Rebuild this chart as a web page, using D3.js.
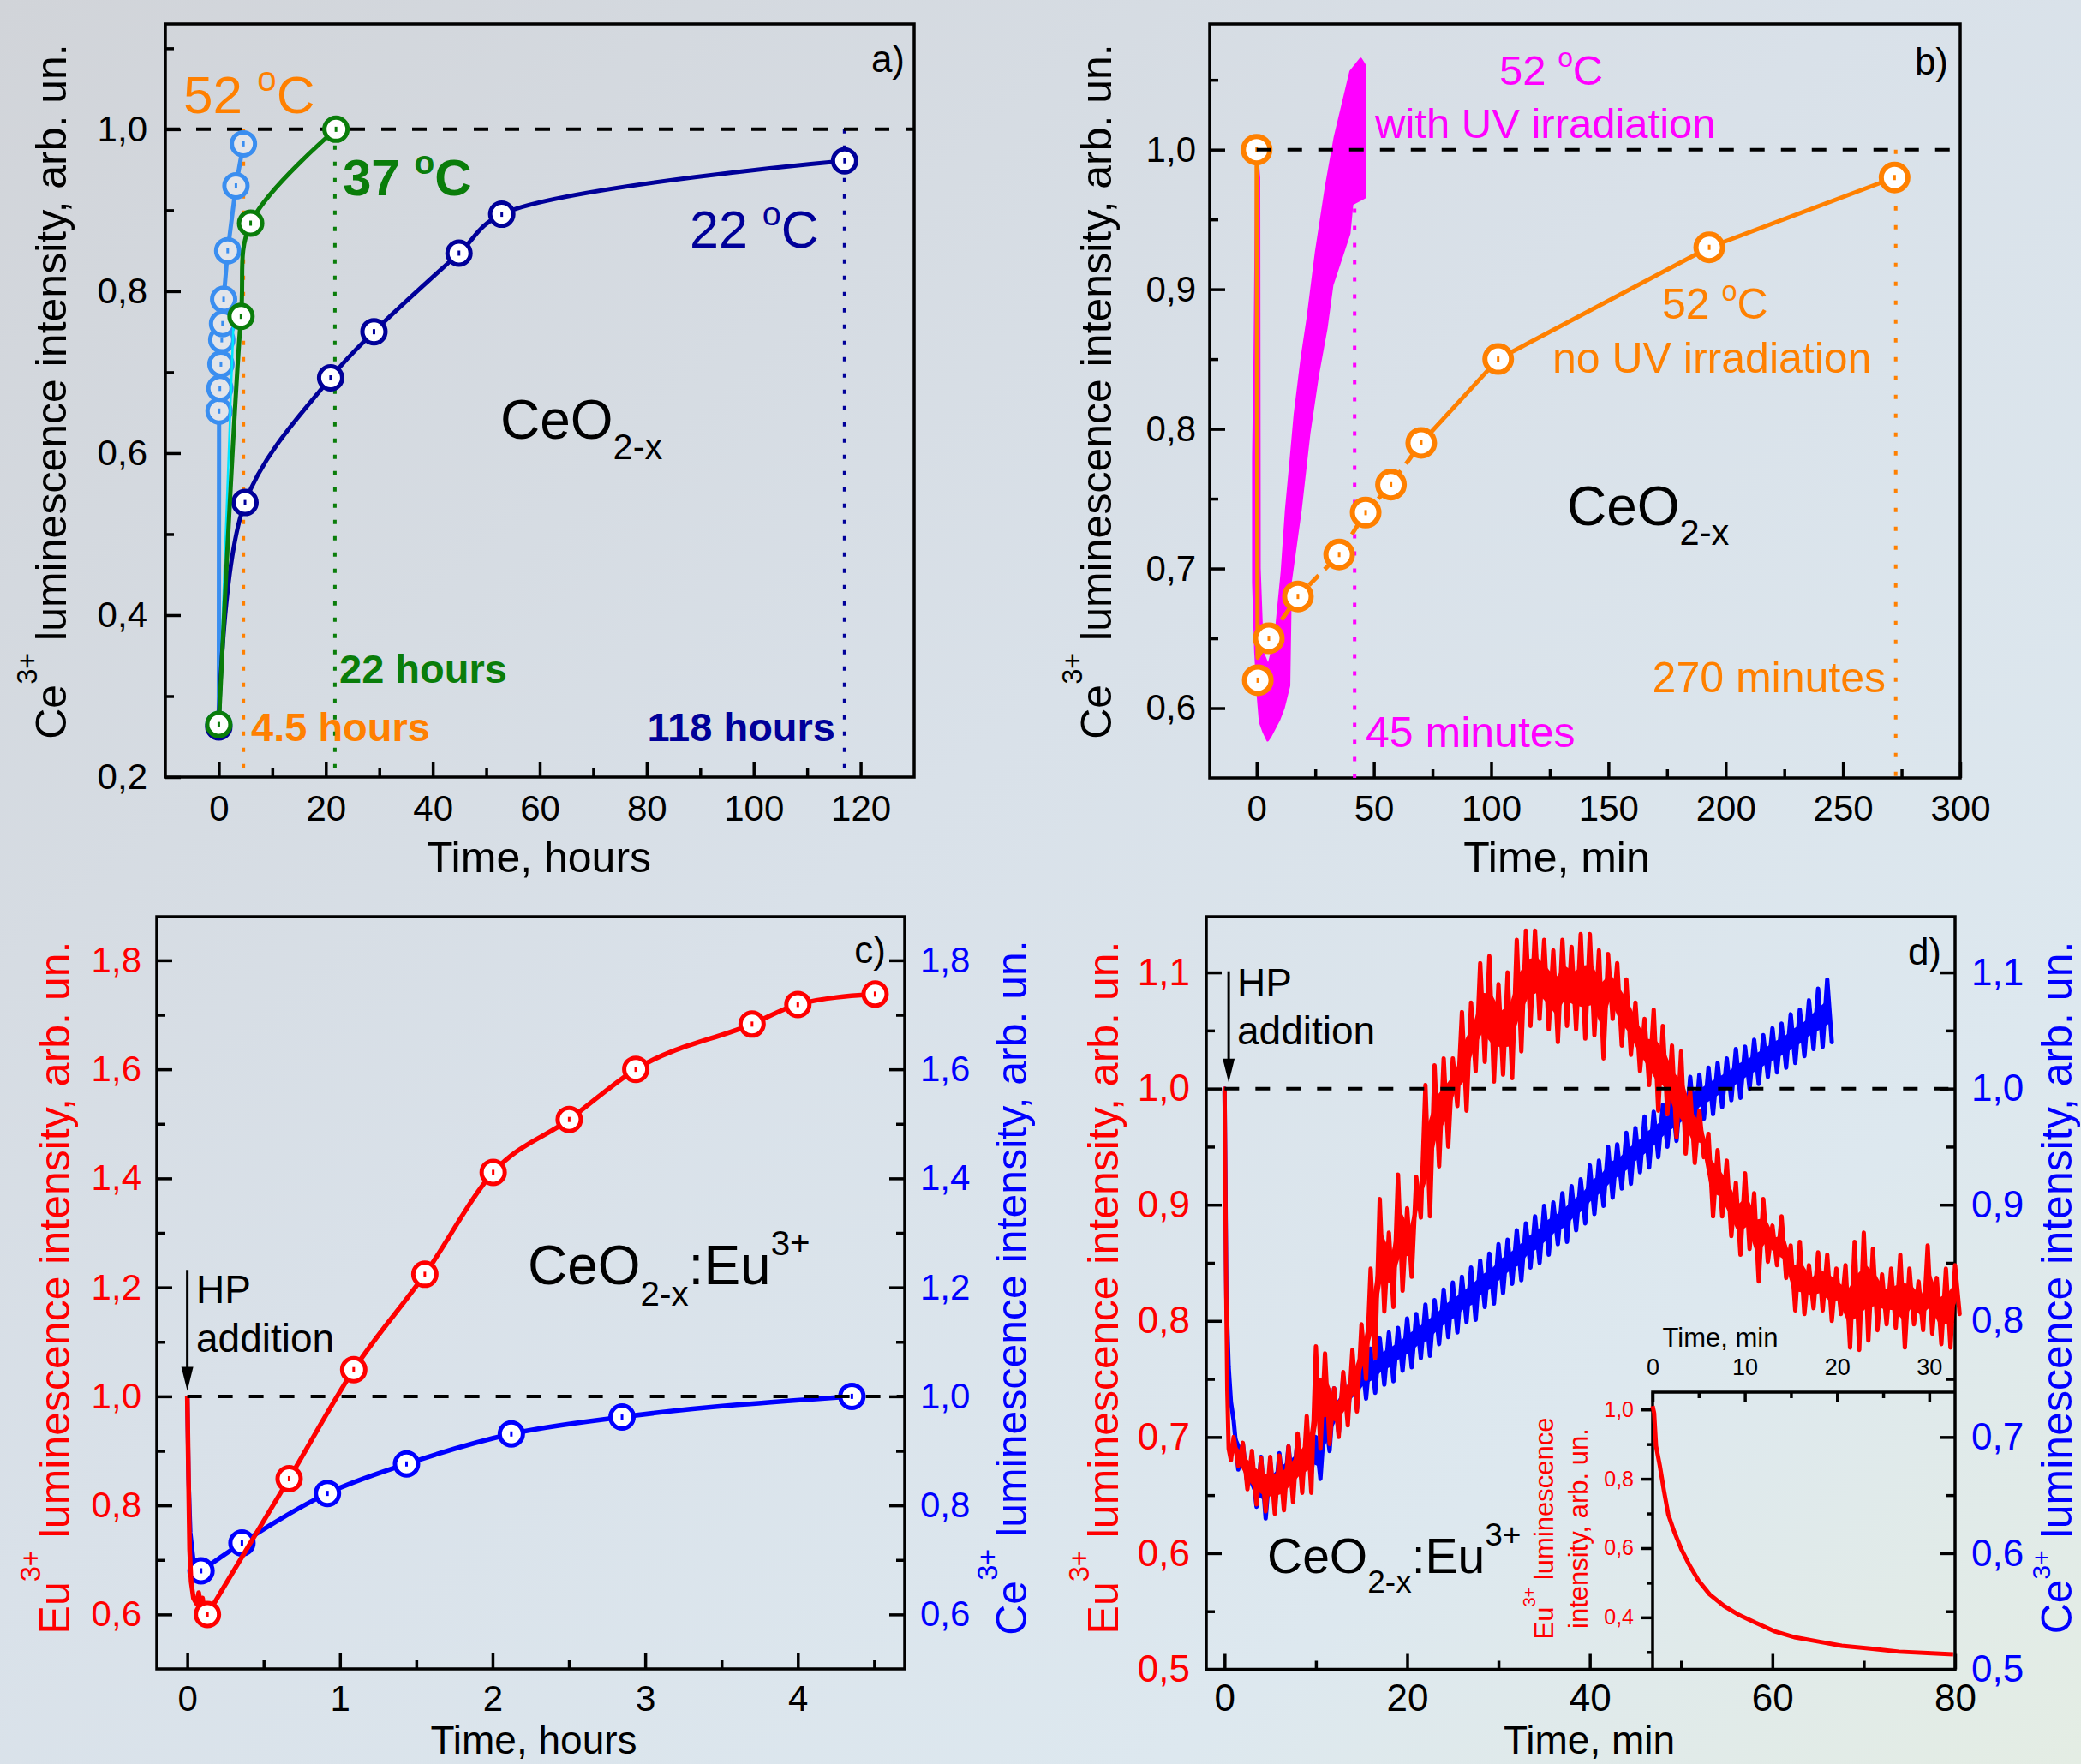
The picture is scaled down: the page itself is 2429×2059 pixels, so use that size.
<!DOCTYPE html>
<html>
<head>
<meta charset="utf-8">
<script src="https://cdn.jsdelivr.net/npm/d3@7"></script>
<style>
  body { margin: 0; }
  svg { display: block; }
</style>
</head>
<body>
<svg id="fig" width="2429" height="2059"></svg>
<script>
////////////////////////////////////////////////////////////////
// Data

// panel a) - Ce3+ recovery after HP, time in hours
let hours22 = [0, 4.9, 20.9, 29.0, 44.9, 52.9, 117];
let ce22    = [0.262, 0.539, 0.693, 0.750, 0.847, 0.895, 0.961];
let hours37 = [0, 4.15, 5.95, 21.9];
let ce37    = [0.265, 0.769, 0.884, 1.0];
let hours52 = [0, 0.05, 0.2, 0.4, 0.55, 0.7, 0.9, 1.66, 3.2, 4.6];
let ce52    = [0.265, 0.652, 0.68, 0.71, 0.74, 0.76, 0.79, 0.85, 0.93, 0.982];
let cyanHours = [0, 2.8];
let cyanCe    = [0.27, 0.77];
let recoveryHours = [4.6, 21.7, 117];
let xTicksA = [0, 20, 40, 60, 80, 100, 120];
let xMinorA = [10, 30, 50, 70, 90, 110];
let yTicksA = [0.2, 0.4, 0.6, 0.8, 1.0];
let yMinorA = [0.3, 0.5, 0.7, 0.9, 1.1];

// panel b) - 52 C, with / without UV, time in min
let minDark = [0, 0.5, 5.2, 17.6, 35.2, 46.5, 57.3, 70.2, 103, 193, 272];
let ceDark  = [1.0, 0.62, 0.65, 0.68, 0.71, 0.74, 0.76, 0.79, 0.85, 0.93, 0.98];
let darkDropMin = [0, 0.4, 5.2];
let darkDropCe  = [1.0, 0.636, 0.65];
// outline of the noisy magenta (UV) trace
let uvMin = [0, -0.8, -1.4, -1.4, -0.5, 0.5, 1.5, 3, 4.7, 5.9, 9.6, 11.4, 13.8, 14.5, 18.7, 22.4,
             26, 29.7, 32.2, 39.5, 40.7, 46.2, 46.2, 44.4, 40.1, 33.4, 29.7, 25.4, 21.8, 19.3,
             16.3, 14.5, 12.6, 10.8, 8, 5, 2.5, 1.2, 1];
let uvCe  = [1.0, 0.85, 0.78, 0.69, 0.64, 0.61, 0.59, 0.583, 0.577, 0.58, 0.592, 0.6, 0.616, 0.691, 0.742, 0.797,
             0.838, 0.872, 0.903, 0.94, 0.961, 0.966, 1.06, 1.065, 1.056, 1.009, 0.974, 0.927, 0.879, 0.851,
             0.81, 0.776, 0.742, 0.698, 0.65, 0.63, 0.64, 0.70, 0.98];
let uvEndMin = 41.8;
let darkEndMin = 272.5;
let xTicksB = [0, 50, 100, 150, 200, 250, 300];
let xMinorB = [25, 75, 125, 175, 225, 275];
let yTicksB = [0.6, 0.7, 0.8, 0.9, 1.0];
let yMinorB = [0.65, 0.75, 0.85, 0.95, 1.05];

// panel c) - CeO2-x:Eu3+, time in hours
let hoursEu = [0.132, 0.667, 1.09, 1.556, 2.004, 2.502, 2.938, 3.70, 4.0, 4.506];
let euC     = [0.60, 0.849, 1.049, 1.224, 1.411, 1.508, 1.600, 1.683, 1.719, 1.738];
let hoursCe = [0.09, 0.358, 0.918, 1.436, 2.123, 2.848, 4.354];
let ceC     = [0.68, 0.731, 0.822, 0.876, 0.931, 0.962, 1.0];
let euDropHours = [0, 0.008, 0.015, 0.025, 0.04, 0.06, 0.075, 0.09, 0.1, 0.115, 0.132];
let euDrop      = [1.0, 0.85, 0.72, 0.66, 0.63, 0.62, 0.64, 0.61, 0.63, 0.60, 0.60];
let ceDropHours = [0, 0.008, 0.02, 0.04, 0.065, 0.09];
let ceDrop      = [1.0, 0.85, 0.75, 0.70, 0.685, 0.68];
let xTicksC = [0, 1, 2, 3, 4];
let xMinorC = [0.5, 1.5, 2.5, 3.5, 4.5];
let yTicksC = [0.6, 0.8, 1.0, 1.2, 1.4, 1.6, 1.8];
let yMinorC = [0.7, 0.9, 1.1, 1.3, 1.5, 1.7];

// panel d) - kinetics, time in min (upper / lower swing of the noisy traces, 1 min steps)
let dMinutes = d3.range(1, 81);
let euHi = [0.700, 0.695, 0.688, 0.682, 0.683, 0.684, 0.692, 0.703, 0.718, 0.778,
            0.772, 0.742, 0.756, 0.775, 0.797, 0.845, 0.905, 0.876, 0.926, 0.897,
            0.924, 1.003, 1.020, 1.026, 1.026, 1.066, 1.074, 1.108, 1.114, 1.090,
            1.100, 1.128, 1.136, 1.136, 1.128, 1.119, 1.128, 1.122, 1.133, 1.133,
            1.119, 1.116, 1.108, 1.094, 1.074, 1.060, 1.068, 1.054, 1.037, 1.032,
            0.998, 0.981, 0.961, 0.947, 0.938, 0.919, 0.927, 0.910, 0.905, 0.882,
            0.890, 0.865, 0.868, 0.848, 0.859, 0.857, 0.845, 0.848, 0.868, 0.876,
            0.862, 0.840, 0.845, 0.857, 0.845, 0.834, 0.865, 0.837, 0.845, 0.848];
let euLo = [0.675, 0.655, 0.642, 0.636, 0.634, 0.637, 0.644, 0.652, 0.652, 0.690,
            0.694, 0.700, 0.710, 0.722, 0.750, 0.768, 0.808, 0.812, 0.826, 0.838,
            0.889, 0.890, 0.933, 0.950, 0.985, 0.981, 1.015, 1.023, 1.006, 1.012,
            1.009, 1.032, 1.054, 1.060, 1.051, 1.040, 1.054, 1.051, 1.043, 1.046,
            1.026, 1.060, 1.037, 1.029, 1.015, 1.003, 0.981, 0.978, 0.958, 0.944,
            0.936, 0.941, 0.890, 0.890, 0.873, 0.857, 0.862, 0.834, 0.851, 0.848,
            0.837, 0.809, 0.806, 0.811, 0.809, 0.800, 0.806, 0.777, 0.775, 0.783,
            0.792, 0.797, 0.794, 0.777, 0.797, 0.792, 0.789, 0.780, 0.777, 0.806];
let ceHi = [0.714, 0.694, 0.676, 0.683, 0.678, 0.686, 0.692, 0.700, 0.703, 0.700,
            0.720, 0.742, 0.752, 0.763, 0.772, 0.776, 0.785, 0.790, 0.794, 0.802,
            0.806, 0.814, 0.818, 0.827, 0.833, 0.838, 0.846, 0.852, 0.858, 0.866,
            0.870, 0.878, 0.884, 0.890, 0.899, 0.902, 0.910, 0.916, 0.922, 0.934,
            0.938, 0.950, 0.952, 0.962, 0.966, 0.976, 0.980, 0.986, 0.994, 1.002,
            1.010, 1.012, 1.018, 1.022, 1.026, 1.034, 1.036, 1.042, 1.046, 1.052,
            1.056, 1.064, 1.068, 1.076, 1.086, 1.094];
let ceLo = [0.672, 0.659, 0.640, 0.630, 0.644, 0.650, 0.655, 0.661, 0.668, 0.664,
            0.688, 0.703, 0.718, 0.724, 0.733, 0.738, 0.745, 0.748, 0.757, 0.760,
            0.768, 0.770, 0.780, 0.786, 0.790, 0.799, 0.801, 0.812, 0.815, 0.824,
            0.832, 0.835, 0.846, 0.850, 0.857, 0.866, 0.868, 0.878, 0.884, 0.892,
            0.899, 0.906, 0.914, 0.918, 0.928, 0.932, 0.941, 0.950, 0.955, 0.960,
            0.966, 0.974, 0.978, 0.984, 0.990, 0.992, 1.000, 1.004, 1.010, 1.014,
            1.018, 1.022, 1.028, 1.034, 1.036, 1.040];
let euStartMin = [0, 0.15, 0.3, 0.45, 0.7];
let euStart    = [1.0, 0.85, 0.74, 0.69, 0.68];
let ceStartMin = [0, 0.2, 0.45, 0.7];
let ceStart    = [1.0, 0.82, 0.76, 0.73];
let xTicksD = [0, 20, 40, 60, 80];
let xMinorD = [10, 30, 50, 70];
let yTicksD = [0.5, 0.6, 0.7, 0.8, 0.9, 1.0, 1.1];
let yMinorD = [0.55, 0.65, 0.75, 0.85, 0.95, 1.05];

// inset of d) - Eu3+ decay
let insetMin = [0, 0.16, 0.37, 0.78, 1.24, 1.7, 2.33, 3.1, 4.03, 4.96, 6.2, 7.75, 9.3,
                11.2, 13.3, 15.5, 18, 20.5, 23.6, 26.7, 29.8, 32.6];
let insetEu  = [1.01, 0.99, 0.895, 0.838, 0.764, 0.697, 0.648, 0.598, 0.549, 0.507, 0.466, 0.433, 0.408,
                0.384, 0.359, 0.342, 0.330, 0.318, 0.310, 0.301, 0.297, 0.293];
let xTicksI = [0, 10, 20, 30];
let xMinorI = [5, 15, 25];
let yTicksI = [0.4, 0.6, 0.8, 1.0];
let yMinorI = [0.3, 0.5, 0.7, 0.9];


////////////////////////////////////////////////////////////////
// helpers

const FONT = "'Liberation Sans', Arial, sans-serif";
const NAVY = "#000099", GREEN = "#0a7d0a", SKY = "#3a8ef0", ORANGE = "#ff8000",
      MAGENTA = "#ff00ff", RED = "#ff0000", BLUE = "#0000ff";

let svg = d3.select("#fig");

// background
let grad = svg.append("defs").append("linearGradient")
  .attr("id", "bg").attr("x1", 0).attr("y1", 0).attr("x2", 1).attr("y2", 1);
grad.append("stop").attr("offset", 0).attr("stop-color", "#d1d4d9");
grad.append("stop").attr("offset", 0.45).attr("stop-color", "#d9e1e9");
grad.append("stop").attr("offset", 0.78).attr("stop-color", "#dde8ef");
grad.append("stop").attr("offset", 1).attr("stop-color", "#e4ede4");
svg.append("rect").attr("width", 2429).attr("height", 2059).attr("fill", "url(#bg)");

let dec = d => d3.format(".1f")(d).replace(".", ",");
let int = d3.format("d");

function panel(l, r, t, b, xd, yd) {
  return { l, r, t, b, g: svg.append("g"),
    x: d3.scaleLinear().domain(xd).range([l, r]),
    y: d3.scaleLinear().domain(yd).range([b, t]) };
}

function frame(p) {
  p.g.append("rect")
    .attr("x", p.l).attr("y", p.t).attr("width", p.r - p.l).attr("height", p.b - p.t)
    .attr("fill", "none").attr("stroke", "#000").attr("stroke-width", 3.5);
}

function ticks(p, make, pos, major, minor, fmt, opt) {
  let o = Object.assign({ size: 42, pad: 20, color: "#000", len: -18, mlen: -10 }, opt);
  let gm = p.g.append("g").attr("transform", pos)
    .call(make().tickValues(minor).tickSize(o.mlen).tickFormat(""));
  gm.select(".domain").remove();
  gm.selectAll("line").attr("stroke-width", 3.5);
  let ga = p.g.append("g").attr("transform", pos)
    .call(make().tickValues(major).tickSize(o.len).tickPadding(o.pad).tickFormat(fmt));
  ga.attr("font-family", FONT).attr("font-size", o.size);
  ga.select(".domain").remove();
  ga.selectAll("line").attr("stroke-width", 3.5);
  ga.selectAll("text").attr("fill", o.color);
}

// text with sub/superscripts: parts = [[text, shift(em), scale], ...]
function label(g, x, y, size, parts, opt) {
  opt = opt || {};
  let t = g.append("text").attr("x", x).attr("y", y)
    .attr("font-family", FONT).attr("font-size", size)
    .attr("fill", opt.color || "#000")
    .attr("font-weight", opt.bold ? "bold" : null)
    .attr("text-anchor", opt.anchor || "start")
    .style("white-space", "pre");
  if (opt.rotate) t.attr("transform", `rotate(-90,${x},${y})`);
  if (typeof parts === "string") parts = [[parts, 0, 1]];
  let shift = 0;
  parts.forEach(([s, k, f]) => {
    let dy = k * size;
    t.append("tspan").attr("dy", dy - shift).attr("font-size", size * f).text(s);
    shift = dy;
  });
  return t;
}

function path(p, xs, ys, color, width, curve, dash) {
  return p.g.append("path")
    .datum(d3.zip(xs, ys))
    .attr("d", d3.line().x(d => p.x(d[0])).y(d => p.y(d[1])).curve(curve || d3.curveLinear))
    .attr("fill", "none").attr("stroke", color).attr("stroke-width", width)
    .attr("stroke-dasharray", dash || null)
    .attr("stroke-linejoin", "round");
}

function markers(p, xs, ys, color, fill, r, sw) {
  p.g.append("g").selectAll("g")
    .data(d3.zip(xs, ys))
    .join("g")
    .attr("transform", d => `translate(${p.x(d[0])},${p.y(d[1])})`)
    .call(g => g.append("circle").attr("r", r || 13.5).attr("fill", fill || "#fff")
      .attr("stroke", color).attr("stroke-width", sw || 5))
    .call(g => g.append("rect").attr("x", -1.5).attr("y", -3).attr("width", 3).attr("height", 6)
      .attr("fill", color));
}

function vline(p, x, v0, v1, color, dash, w) {
  p.g.append("line")
    .attr("x1", p.x(x)).attr("x2", p.x(x)).attr("y1", p.y(v0)).attr("y2", p.y(v1))
    .attr("stroke", color).attr("stroke-width", w || 4).attr("stroke-dasharray", dash);
}

function unityLine(p, x0, x1) {
  p.g.append("line")
    .attr("x1", p.x(x0)).attr("x2", p.x(x1)).attr("y1", p.y(1)).attr("y2", p.y(1))
    .attr("stroke", "#000").attr("stroke-width", 4).attr("stroke-dasharray", "17,19");
}

function arrow(p, t, vTop, vTip) {
  let x = p.x(t), y0 = p.y(vTop), y1 = p.y(vTip);
  p.g.append("line").attr("x1", x).attr("x2", x).attr("y1", y0).attr("y2", y1 - 20)
    .attr("stroke", "#000").attr("stroke-width", 3);
  p.g.append("path").attr("d", `M${x},${y1} L${x - 7},${y1 - 28} L${x + 7},${y1 - 28} Z`).attr("fill", "#000");
}

// noisy trace: solid core of the band plus the swing between upper and lower readings
function noisy(p, startT, startV, ts, hi, lo, color) {
  let core = ts.map((t, i) => [t + 0.25, hi[i] - 0.3 * (hi[i] - lo[i]), lo[i] + 0.3 * (hi[i] - lo[i])]);
  p.g.append("path").datum(core)
    .attr("d", d3.area().x(d => p.x(d[0])).y1(d => p.y(d[1])).y0(d => p.y(d[2])))
    .attr("fill", color);
  let pts = d3.zip(startT, startV);
  hi.forEach((h, i) => { pts.push([ts[i], h]); pts.push([ts[i] + 0.5, lo[i]]); });
  p.g.append("path").datum(pts)
    .attr("d", d3.line().x(d => p.x(d[0])).y(d => p.y(d[1])))
    .attr("fill", "none").attr("stroke", color).attr("stroke-width", 5)
    .attr("stroke-linejoin", "round").attr("stroke-linecap", "round");
}

let ceTitle = [["Ce", 0, 1], ["3+", -0.68, 0.65], [" luminescence intensity, arb. un.", 0, 1]];
let euTitle = [["Eu", 0, 1], ["3+", -0.68, 0.65], [" luminescence intensity, arb. un.", 0, 1]];
let deg = (n) => [[n + " ", 0, 1], ["o", -0.42, 0.65], ["C", 0, 1]];


////////////////////////////////////////////////////////////////
// panel a)

let A = panel(193, 1067, 28, 907, [-10, 130], [0.2, 1.13]);
frame(A);
ticks(A, () => d3.axisBottom(A.x), `translate(0,${A.b})`, xTicksA, xMinorA, int, { pad: 21 });
ticks(A, () => d3.axisLeft(A.y), `translate(${A.l},0)`, yTicksA, yMinorA, dec, { pad: 21 });

[ORANGE, GREEN, NAVY].forEach((c, i) => vline(A, recoveryHours[i], 1.0, 0.2, c, "5,14", 4));
unityLine(A, -10, 130);

path(A, hours52, ce52, SKY, 5);
markers(A, hours52, ce52, SKY, "#e2e5ea");
path(A, cyanHours, cyanCe, "#00e5ff", 2.5);
path(A, hours22, ce22, NAVY, 5, d3.curveCatmullRom.alpha(0.5));
markers(A, hours22, ce22, NAVY);
path(A, hours37, ce37, GREEN, 5, d3.curveCatmullRom.alpha(0.5));
markers(A, hours37, ce37, GREEN);

label(A.g, 214, 132, 62, deg("52"), { color: ORANGE });
label(A.g, 400, 228, 60, deg("37"), { color: GREEN, bold: true });
label(A.g, 805, 289, 61, deg("22"), { color: NAVY });
label(A.g, 584, 512, 64, [["CeO", 0, 1], ["2-x", 0.38, 0.65]]);
label(A.g, 396, 797, 47, "22 hours", { color: GREEN, bold: true });
label(A.g, 293, 865, 47, "4.5 hours", { color: ORANGE, bold: true });
label(A.g, 975, 865, 47, "118 hours", { color: NAVY, bold: true, anchor: "end" });
label(A.g, 1056, 84, 44, "a)", { anchor: "end" });
label(A.g, 629, 1018, 50, "Time, hours", { anchor: "middle" });
label(A.g, 77, 457, 50, ceTitle, { rotate: true, anchor: "middle" });


////////////////////////////////////////////////////////////////
// panel b)

let B = panel(1412, 2288, 28, 908, [-20, 300], [0.55, 1.09]);
frame(B);
ticks(B, () => d3.axisBottom(B.x), `translate(0,${B.b})`, xTicksB, xMinorB, int, { pad: 20 });
ticks(B, () => d3.axisLeft(B.y), `translate(${B.l},0)`, yTicksB, yMinorB, dec, { pad: 16 });

B.g.append("path")
  .datum(d3.zip(uvMin, uvCe))
  .attr("d", d3.line().x(d => B.x(d[0])).y(d => B.y(d[1])).curve(d3.curveLinearClosed))
  .attr("fill", MAGENTA).attr("stroke", MAGENTA).attr("stroke-width", 3).attr("stroke-linejoin", "round");
vline(B, uvEndMin, 0.97, 0.55, MAGENTA, "5,15", 4);
vline(B, darkEndMin, 1.0, 0.55, ORANGE, "5,17", 4);

path(B, darkDropMin, darkDropCe, ORANGE, 5);
path(B, minDark.slice(2, 8), ceDark.slice(2, 8), ORANGE, 5, null, "16,10");
path(B, minDark.slice(7), ceDark.slice(7), ORANGE, 5);
markers(B, minDark, ceDark, ORANGE, "#fff", 15.5, 6);
unityLine(B, 0, 300);

label(B.g, 1750, 99, 49, deg("52"), { color: MAGENTA });
label(B.g, 1605, 161, 49, "with UV irradiation", { color: MAGENTA });
label(B.g, 1940, 372, 50, deg("52"), { color: ORANGE });
label(B.g, 1812, 435, 50, "no UV irradiation", { color: ORANGE });
label(B.g, 1829, 613, 64, [["CeO", 0, 1], ["2-x", 0.36, 0.65]]);
label(B.g, 2201, 808, 50, "270 minutes", { color: ORANGE, anchor: "end" });
label(B.g, 1594, 872, 50, "45 minutes", { color: MAGENTA });
label(B.g, 2274, 87, 44, "b)", { anchor: "end" });
label(B.g, 1817, 1018, 50, "Time, min", { anchor: "middle" });
label(B.g, 1297, 457, 50, ceTitle, { rotate: true, anchor: "middle" });


////////////////////////////////////////////////////////////////
// panel c)

let C = panel(183, 1056, 1070, 1948, [-0.2, 4.7], [0.5, 1.88]);
frame(C);
ticks(C, () => d3.axisBottom(C.x), `translate(0,${C.b})`, xTicksC, xMinorC, int, { pad: 19 });
ticks(C, () => d3.axisLeft(C.y), `translate(${C.l},0)`, yTicksC, yMinorC, dec, { pad: 18, color: RED });
ticks(C, () => d3.axisRight(C.y), `translate(${C.r},0)`, yTicksC, yMinorC, dec, { pad: 18, color: BLUE });

path(C, ceDropHours, ceDrop, BLUE, 5);
path(C, hoursCe, ceC, BLUE, 5.5, d3.curveMonotoneX);
markers(C, hoursCe, ceC, BLUE);
path(C, euDropHours, euDrop, RED, 5.5);
path(C, hoursEu, euC, RED, 5.5, d3.curveMonotoneX);
markers(C, hoursEu, euC, RED);
unityLine(C, 0, 4.7);
arrow(C, 0, 1.232, 1.01);

label(C.g, 229, 1521, 46, "HP");
label(C.g, 229, 1578, 46, "addition");
label(C.g, 616, 1499, 64, [["CeO", 0, 1], ["2-x", 0.39, 0.63], [":Eu", 0, 1], ["3+", -0.53, 0.63]]);
label(C.g, 1034, 1124, 44, "c)", { anchor: "end" });
label(C.g, 623, 2047, 46, "Time, hours", { anchor: "middle" });
label(C.g, 81, 1503, 50, euTitle, { rotate: true, anchor: "middle", color: RED });
label(C.g, 1198, 1503, 50, ceTitle, { rotate: true, anchor: "middle", color: BLUE });


////////////////////////////////////////////////////////////////
// panel d)

let D = panel(1408, 2282, 1070, 1948.5, [-2, 80], [0.5, 1.148]);
frame(D);
ticks(D, () => d3.axisBottom(D.x), `translate(0,${D.b})`, xTicksD, xMinorD, int, { pad: 17, size: 44 });
ticks(D, () => d3.axisLeft(D.y), `translate(${D.l},0)`, yTicksD, yMinorD, dec, { pad: 19, size: 44, color: RED });
ticks(D, () => d3.axisRight(D.y), `translate(${D.r},0)`, yTicksD, yMinorD, dec, { pad: 19, size: 44, color: BLUE });

noisy(D, ceStartMin, ceStart, dMinutes.slice(0, ceHi.length), ceHi, ceLo, BLUE);
noisy(D, euStartMin, euStart, dMinutes, euHi, euLo, RED);
unityLine(D, 0, 80);
arrow(D, 0.45, 1.101, 1.005);

label(D.g, 1444, 1163, 46, "HP");
label(D.g, 1444, 1219, 46, "addition");
label(D.g, 1479, 1836, 57, [["CeO", 0, 1], ["2-x", 0.4, 0.65], [":Eu", 0, 1], ["3+", -0.56, 0.65]]);
label(D.g, 2266, 1126, 44, "d)", { anchor: "end" });
label(D.g, 1855, 2047, 46, "Time, min", { anchor: "middle" });
label(D.g, 1305, 1503, 50, euTitle, { rotate: true, anchor: "middle", color: RED });
label(D.g, 2418, 1503, 50, [["Ce", 0, 1], ["3+", -0.5, 0.6], [" luminescence intensity, arb. un.", 0, 1]],
  { rotate: true, anchor: "middle", color: BLUE });

// inset
let I = panel(1929, 2282, 1625, 1948.5, [0, 32.8], [0.25, 1.05]);
I.g.append("path").attr("d", `M${I.l},${I.b} V${I.t} H${I.r}`)
  .attr("fill", "none").attr("stroke", "#000").attr("stroke-width", 3.5);
ticks(I, () => d3.axisTop(I.x), `translate(0,${I.t})`, xTicksI, xMinorI, int,
  { pad: 20, size: 27, len: -12, mlen: -7 });
ticks(I, () => d3.axisLeft(I.y), `translate(${I.l},0)`, yTicksI, yMinorI, dec,
  { pad: 9, size: 25, color: RED, len: 13, mlen: 7 });
path(I, insetMin, insetEu, RED, 5);
label(I.g, 2008, 1572, 31, "Time, min", { anchor: "middle" });
label(I.g, 1813, 1784, 31, euTitle.slice(0, 2).concat([[" luminescence", 0, 1]]),
  { rotate: true, anchor: "middle", color: RED });
label(I.g, 1853, 1784, 31, "intensity, arb. un.", { rotate: true, anchor: "middle", color: RED });
</script>
</body>
</html>
